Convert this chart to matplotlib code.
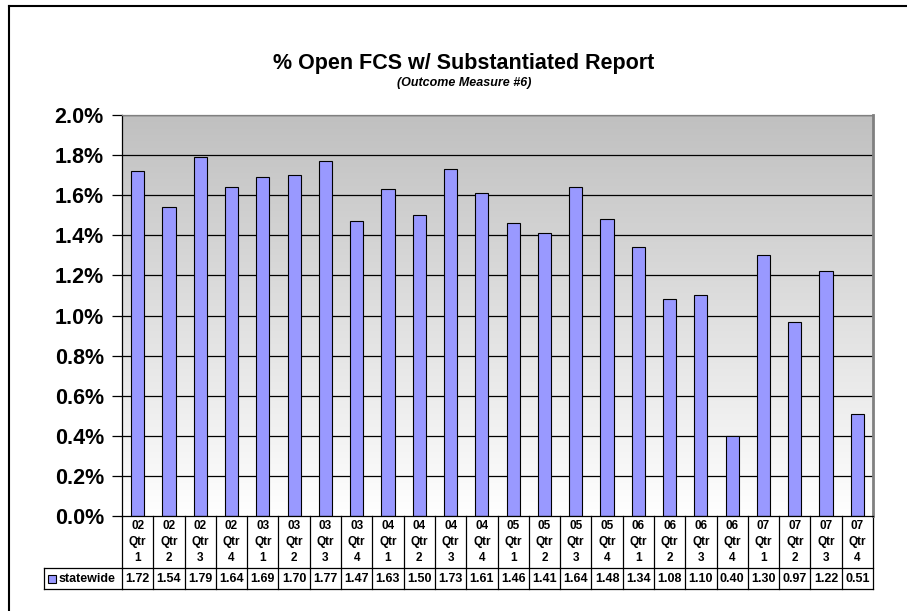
import numpy as np
import matplotlib
matplotlib.use('Agg')
import matplotlib.pyplot as plt
from matplotlib.transforms import blended_transform_factory
from matplotlib.patches import Rectangle
from matplotlib.lines import Line2D

plt.rcParams['font.family'] = ['Liberation Sans', 'DejaVu Sans']

years = ['02', '02', '02', '02', '03', '03', '03', '03', '04', '04', '04', '04',
         '05', '05', '05', '05', '06', '06', '06', '06', '07', '07', '07', '07']
quarters = ['1', '2', '3', '4'] * 6
statewide = [1.72, 1.54, 1.79, 1.64, 1.69, 1.70, 1.77, 1.47, 1.63, 1.50, 1.73, 1.61,
             1.46, 1.41, 1.64, 1.48, 1.34, 1.08, 1.10, 0.40, 1.30, 0.97, 1.22, 0.51]
yticks = [0.0, 0.2, 0.4, 0.6, 0.8, 1.0, 1.2, 1.4, 1.6, 1.8, 2.0]

bar_color = '#9999ff'

fig = plt.figure(figsize=(9.07, 6.11), dpi=100)
ax = fig.add_axes([122/907, 1 - 516/611, 751/907, 401/611])

n = len(statewide)
x = np.arange(n)

# gradient background
grad = np.linspace(0, 1, 256).reshape(-1, 1)
cmap = matplotlib.colors.LinearSegmentedColormap.from_list('bg', ['#ffffff', '#c0c0c0'])
ax.imshow(grad, aspect='auto', cmap=cmap, origin='lower',
          extent=[-0.5, n - 0.5, 0, 2.0], zorder=0)

for t in yticks[1:]:
    ax.axhline(t, color='black', lw=0.9, zorder=1)

ax.bar(x, statewide, width=0.42, color=bar_color, edgecolor='black', lw=0.8, zorder=2)

ax.set_xlim(-0.5, n - 0.5)
ax.set_ylim(0, 2.0)
ax.set_yticks(yticks)
ax.set_yticklabels(['%.1f%%' % t for t in yticks], fontsize=15.5, fontweight='bold')
ax.tick_params(axis='y', direction='out', length=7, width=0.9, pad=6)
ax.set_xticks([])
for s in ax.spines.values():
    s.set_linewidth(0.9)
ax.spines['right'].set_color('#808080')
ax.spines['right'].set_linewidth(2)
ax.spines['top'].set_color('#808080')

# data table under the plot
tr = blended_transform_factory(ax.transData, ax.transAxes)
y_mid = -52/401
y_bot = -73/401
for i in range(n + 1):
    ax.add_line(Line2D([i - 0.5, i - 0.5], [0, y_bot], transform=tr, color='black',
                       lw=0.9, clip_on=False))
ax.add_line(Line2D([-0.5, n - 0.5], [y_mid, y_mid], transform=tr, color='black',
                   lw=0.9, clip_on=False))
ax.add_line(Line2D([-0.5, n - 0.5], [y_bot, y_bot], transform=tr, color='black',
                   lw=0.9, clip_on=False))
for i in range(n):
    ax.text(i, y_mid / 2, years[i] + '\nQtr\n' + quarters[i], transform=tr,
            ha='center', va='center', fontsize=8.5, fontweight='bold', linespacing=1.45)
    ax.text(i, (y_mid + y_bot) / 2, '%.2f' % statewide[i], transform=tr,
            ha='center', va='center', fontsize=9, fontweight='bold')

# legend cell
fx0 = 44/907
fx1 = 122/907
fy0 = 1 - 589/611
fy1 = 1 - 568/611
fig.add_artist(Line2D([fx0, fx1], [fy1, fy1], color='black', lw=0.9))
fig.add_artist(Line2D([fx0, fx1], [fy0, fy0], color='black', lw=0.9))
fig.add_artist(Line2D([fx0, fx0], [fy0, fy1], color='black', lw=0.9))
fig.add_artist(Rectangle((48/907, 1 - 583/611), 8/907, 8/611, facecolor=bar_color,
                         edgecolor='black', lw=0.8))
fig.text(59/907, (fy0 + fy1) / 2, 'statewide', ha='left', va='center',
         fontsize=9, fontweight='bold')

# titles
fig.text(464/907, 1 - 69/611, '% Open FCS w/ Substantiated Report', ha='center',
         va='baseline', fontsize=15.5, fontweight='bold')
fig.text(464/907, 1 - 86/611, '(Outcome Measure #6)', ha='center', va='baseline',
         fontsize=9, fontweight='bold', style='italic')

# outer frame edges (left and top)
fig.add_artist(Line2D([9/907, 9/907], [0, 1 - 6/611], color='black', lw=1.5))
fig.add_artist(Line2D([9/907, 1], [1 - 6/611, 1 - 6/611], color='black', lw=1.5))

fig.savefig('out.png', dpi=100)
